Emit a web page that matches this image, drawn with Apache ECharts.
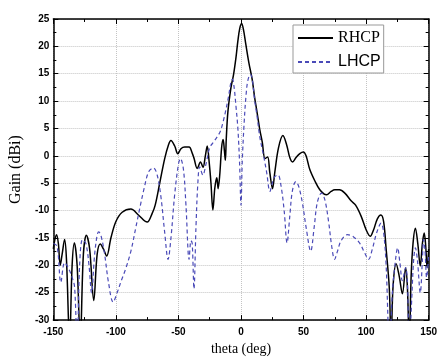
<!DOCTYPE html>
<html><head><meta charset="utf-8">
<script src="https://cdn.jsdelivr.net/npm/echarts@6/dist/echarts.min.js"></script>
<style>html,body{margin:0;padding:0;background:#fff}#c{width:440px;height:361px}</style>
</head><body><div id="c"></div>
<script>
const rhcpTheta = [-150,-149,-147.5,-146,-144.5,-143,-141,-139.5,-137,-135,-133.2,-131,-128.5,-126,-123.6,-121,-117.7,-115,-112.5,-110,-107.4,-104,-100,-95,-88,-82,-75,-71,-68.6,-65,-61,-58,-56,-53,-50.5,-48,-45,-41.5,-39,-37.5,-35,-32.4,-30.4,-28.5,-27,-25.5,-24,-22.5,-21,-20,-19.3,-18.3,-17,-15.5,-14.3,-13.3,-12.5,-11.8,-10.5,-8,-6,-4,-2.5,-1,0.5,2,3.7,6.3,8.9,11,12.8,15,17,19.2,21.3,23,25.2,27,30,33.5,36.5,39,41.2,44,47,49.8,52,55,59.3,63,66.5,68.4,72,75,78.7,83,88,91.6,96,100,103.3,106,109,111.8,114,116,118.5,120,121.5,124,126.5,129,131.6,133,134.5,136,137.5,139.4,141.3,143.3,145,146.4,147.5,148.8,150];
const rhcpGain = [-17,-15.5,-14.4,-16,-20,-18,-15.3,-19,-34,-20,-15.9,-20,-34,-18,-14.5,-17,-26.4,-18,-16.1,-17,-18.3,-15,-12,-10.3,-9.7,-10.8,-12.1,-10.5,-9,-5,-0.5,2,2.8,1.8,0.4,1.3,1.6,1.6,0.5,-0.5,-2.3,-1.1,-2.1,0,1.8,-1,-5,-9.9,-6,-4.5,-4,-6,-3.5,1.5,3,1,-0.8,3,8,12.5,14.8,18,21,23.3,24.2,23,20.6,17,14,10.5,8,4.8,2.5,-0.5,-0.2,-3,-6,-3,1.5,3.7,2,-0.3,-1.1,-0.3,0.4,0.7,0,-2.5,-4.7,-6.2,-7,-7.1,-6.5,-6.2,-6.2,-6.8,-8.2,-9,-11,-13.5,-14.7,-13.5,-11.5,-10.8,-12,-17,-24,-34,-24,-19.7,-22,-25.2,-20.5,-24,-34,-22,-16,-13.2,-16,-20.1,-16,-14.1,-16,-20.4,-17];
const lhcpTheta = [-150,-147,-144,-141,-138,-135,-133,-131,-129,-126.7,-124,-121.5,-119.5,-117,-115,-113.8,-112,-109,-106,-102.2,-99,-95.7,-92,-88,-84,-81.5,-77.5,-73.8,-70,-67,-64,-61,-58.3,-56,-53,-50,-48.4,-46,-44,-41.5,-40,-39,-37.6,-36,-34.5,-33,-30.5,-28,-25,-22,-19,-16.5,-14,-12,-10,-8,-6.8,-5.5,-4,-2.5,-1.2,0,1,2.5,4,5.5,7.6,9,11,12.8,15,18,20.5,23.1,25,27,29.6,32,34.5,36.8,39,41,43.8,46,49,52,55.7,58.5,61,64.3,67,70,72.5,74.8,77,80,85,90,95,99,102,105,108.5,112,114,116,118.7,121,123.5,125.2,127,129,131.6,133,134.5,136.5,138,139.4,141,143.3,145,145.9,147,148.4,150];
const lhcpGain = [-16,-16.5,-23.1,-19.5,-20.5,-22.2,-24,-35,-20,-15.3,-16,-20,-25,-18,-14.5,-13.9,-14.5,-18,-23,-26.7,-25,-22.8,-20.5,-17.4,-13,-10.2,-6,-2.9,-2.2,-3.5,-7.5,-14,-18.9,-15,-7,-1.5,-0.5,-2.5,-9,-18.9,-15.5,-16,-24.3,-13,-5,-2,-3.5,-1.5,1.5,2.5,3.5,4.5,6.5,8.5,10.8,13.5,14,12.5,9,5,-1,-9,-1,6,11,13.8,14.9,14,10,7.3,3.5,0.1,-3,-6.5,-5,-3.8,-3.5,-5.5,-10,-15.9,-11,-6.5,-4.7,-5.5,-8.5,-13,-17.4,-13,-8.5,-6.8,-8,-12,-16.5,-18.9,-17.5,-15.5,-14.4,-14.8,-16,-17.8,-18.9,-17,-14,-12.3,-14,-20,-35,-25,-19,-16.8,-19.5,-22.8,-20.4,-23,-35,-26,-19,-16.8,-19,-25,-19,-15.3,-17,-22.2,-18];
const seriesNames = ['RHCP', 'LHCP'];

const pairs = (t, g) => t.map((v, i) => [v, g[i]]);
const chart = echarts.init(document.getElementById('c'), null, {renderer: 'canvas'});
const tickLabel = {color: '#000', fontFamily: 'Liberation Sans, Arial', fontWeight: 'bold', fontSize: 10};
chart.setOption({
  animation: false,
  backgroundColor: '#fff',
  grid: {left: 45, right: 8, top: 19, bottom: 38},
  legend: {
    orient: 'vertical', left: 293, top: 25,
    padding: [5, 3, 3, 4], itemGap: 8, itemWidth: 35, itemHeight: 14,
    backgroundColor: '#fff', borderColor: '#999', borderWidth: 1,
    itemStyle: {opacity: 0},
    data: seriesNames,
    formatter: n => n === 'RHCP' ? '{s|' + n + '}' : '{a|' + n + '}',
    textStyle: {
      rich: {
        s: {fontFamily: 'Liberation Serif, Times New Roman', fontSize: 16, color: '#000'},
        a: {fontFamily: 'Liberation Sans, Arial', fontSize: 16, color: '#000'}
      }
    }
  },
  xAxis: [{
    type: 'value', min: -150, max: 150, interval: 50,
    name: 'theta (deg)', nameLocation: 'middle', nameGap: 21,
    nameTextStyle: {fontFamily: 'Liberation Serif, Times New Roman', fontSize: 14, color: '#000'},
    axisLine: {onZero: false, lineStyle: {color: '#000', width: 1.5}},
    axisTick: {inside: true, length: 5, lineStyle: {color: '#000'}},
    minorTick: {show: true, splitNumber: 2, length: 3, lineStyle: {color: '#000'}},
    axisLabel: Object.assign({margin: 7}, tickLabel),
    splitLine: {show: true, lineStyle: {color: '#c4c4c4', type: 'dotted', width: 1}}
  }, {
    type: 'value', min: -150, max: 150, interval: 50, position: 'top',
    axisLine: {onZero: false, lineStyle: {color: '#000', width: 1.5}},
    axisTick: {inside: true, length: 5, lineStyle: {color: '#000'}},
    minorTick: {show: true, splitNumber: 2, length: 3, lineStyle: {color: '#000'}},
    axisLabel: {show: false}, splitLine: {show: false}
  }],
  yAxis: [{
    type: 'value', min: -30, max: 25, interval: 5,
    name: 'Gain (dBi)', nameLocation: 'middle', nameGap: 23,
    nameTextStyle: {fontFamily: 'Liberation Serif, Times New Roman', fontSize: 16, color: '#000'},
    axisLine: {onZero: false, lineStyle: {color: '#000', width: 1.5}},
    axisTick: {inside: true, length: 5, lineStyle: {color: '#000'}},
    minorTick: {show: true, splitNumber: 2, length: 3, lineStyle: {color: '#000'}},
    axisLabel: Object.assign({margin: 4}, tickLabel),
    splitLine: {show: true, lineStyle: {color: '#c4c4c4', type: 'dotted', width: 1}}
  }, {
    type: 'value', min: -30, max: 25, interval: 5, position: 'right',
    axisLine: {onZero: false, lineStyle: {color: '#000', width: 1.5}},
    axisTick: {inside: true, length: 5, lineStyle: {color: '#000'}},
    minorTick: {show: true, splitNumber: 2, length: 3, lineStyle: {color: '#000'}},
    axisLabel: {show: false}, splitLine: {show: false}
  }],
  series: [{
    name: seriesNames[0], type: 'line', symbol: 'none', smooth: 0.35, clip: true,
    lineStyle: {color: '#000', width: 1.5}, itemStyle: {color: '#000'},
    data: pairs(rhcpTheta, rhcpGain)
  }, {
    name: seriesNames[1], type: 'line', symbol: 'none', smooth: 0.35, clip: true,
    lineStyle: {color: '#4a4ab8', width: 1.2, type: [4, 3]}, itemStyle: {color: '#4a4ab8'},
    data: pairs(lhcpTheta, lhcpGain)
  }]
});
</script></body></html>
